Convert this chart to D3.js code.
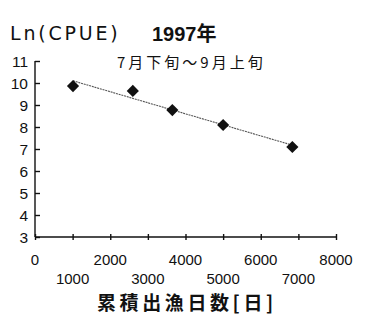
<!DOCTYPE html>
<html lang="ja">
<head>
<meta charset="UTF-8">
<title>Ln(CPUE) 1997</title>
<script src="https://d3js.org/d3.v7.min.js"></script>
<style>
    body { margin: 0; background: #fff; }
    text { font-family: "Liberation Sans", Arial, "Noto Sans CJK JP", sans-serif; fill: #111; }
    .cjk { font-family: "Noto Sans CJK JP", sans-serif; }
</style>
</head>
<body>
<svg width="366" height="316"></svg>
<script>
    // data
    const effort = [1010, 2600, 3650, 5000, 6840];   // cumulative fishing days
    const lnCpue = [9.86, 9.64, 8.77, 8.09, 7.09];
    const xTicks = [0, 1000, 2000, 3000, 4000, 5000, 6000, 7000, 8000];
    const yTicks = [3, 4, 5, 6, 7, 8, 9, 10, 11];

    const svg = d3.select("svg");
    const x = d3.scaleLinear().domain([0, 8000]).range([35, 336]);
    const y = d3.scaleLinear().domain([3, 11]).range([237, 61]);

    // titles
    svg.append("text").attr("x", 10).attr("y", 40)
        .style("font-family", "'DejaVu Sans', sans-serif")
        .style("font-size", "19px").style("letter-spacing", "2.8px").text("Ln(CPUE)");
    svg.append("text").attr("x", 152).attr("y", 41)
        .style("font-size", "20px").style("font-weight", "bold").text("1997年");
    svg.append("text").attr("class", "cjk").attr("x", 117).attr("y", 68)
        .style("font-size", "15px").style("letter-spacing", "3px").text("7月下旬～9月上旬");

    // y axis, ticks pointing inward
    const yAxis = svg.append("g").attr("transform", "translate(35,0)")
        .call(d3.axisRight(y).tickValues(yTicks).tickSize(5).tickFormat(""));
    yAxis.select(".domain").attr("d", `M0,${y(11)}V${y(3)}`);
    yAxis.selectAll("line,path").attr("stroke", "#111").attr("stroke-width", 1.4);
    svg.append("g").selectAll("text").data(yTicks).enter().append("text")
        .attr("x", 28).attr("y", d => y(d) + 6)
        .attr("text-anchor", "end").style("font-size", "15.5px").text(d => d);

    // x axis, ticks crossing the line
    const xAxis = svg.append("g").attr("transform", `translate(0,${y(3)})`)
        .call(d3.axisBottom(x).tickValues(xTicks).tickSize(3).tickFormat(""));
    xAxis.selectAll(".tick line").attr("y1", -3);
    xAxis.select(".domain").attr("d", `M${x(0)},0H${x(8000)}`);
    xAxis.selectAll("line,path").attr("stroke", "#111").attr("stroke-width", 1.4);
    svg.append("g").selectAll("text").data(xTicks).enter().append("text")
        .attr("x", d => x(d))
        .attr("y", (d, i) => i % 2 === 0 ? 265 : 284)
        .attr("text-anchor", "middle").style("font-size", "15px").text(d => d);

    svg.append("text").attr("class", "cjk").attr("x", 97).attr("y", 310)
        .style("font-size", "19px").style("font-weight", "bold")
        .style("letter-spacing", "3.6px").text("累積出漁日数[日]");

    // least squares trend line
    const mx = d3.mean(effort), my = d3.mean(lnCpue);
    const slope = d3.sum(effort, (d, i) => (d - mx) * (lnCpue[i] - my)) /
        d3.sum(effort, d => (d - mx) * (d - mx));
    const fit = v => my + slope * (v - mx);
    const ends = d3.extent(effort);
    svg.append("path")
        .attr("d", d3.line().x(d => x(d)).y(d => y(fit(d)))(ends))
        .attr("stroke", "#555").attr("stroke-width", 1.1)
        .attr("stroke-dasharray", "2,0.8").attr("fill", "none");

    // diamond markers
    svg.append("g").selectAll("path").data(effort).enter().append("path")
        .attr("d", d3.symbol(d3.symbolSquare, 74)())
        .attr("transform", (d, i) => `translate(${x(d)},${y(lnCpue[i])}) rotate(45)`)
        .attr("fill", "#111");
</script>
</body>
</html>
